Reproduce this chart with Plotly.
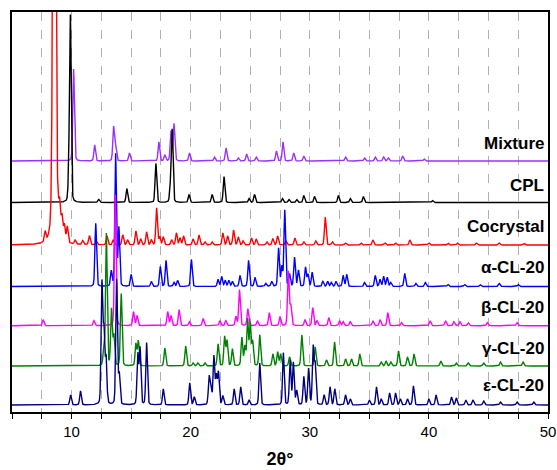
import numpy as np
import plotly.graph_objects as go

# ---- data (peak position 2θ, peak height above baseline) ----
names = ["Mixture", "CPL", "Cocrystal", "α-CL-20", "β-CL-20", "γ-CL-20", "ε-CL-20"]
colors = ["#9B30FF", "#000000", "#FF0000", "#0000FF", "#FF00FF", "#008000", "#000080"]
baselines = [251, 209.5, 167, 125.5, 86.3, 46, 7]
label_y = [269, 227, 186, 145, 105, 64, 27]

mix_pos = [10.17, 11.94, 13.53, 13.7, 14.86, 17.33, 17.83, 18.35, 18.6, 19.9, 22.0, 22.97, 24.0, 24.7, 25.5,
           27.2, 27.75, 28.65, 29.5, 33.0, 34.6, 35.5, 36.2, 36.6, 37.8, 39.6]
mix_h = [92, 16, 34, 14, 8, 19, 6, 30, 37, 8, 4, 13, 3, 7, 4,
         10, 19, 8, 5, 4, 3, 4, 4, 3, 5, 2]

cpl_pos = [9.78, 9.9, 12.28, 14.64, 17.08, 18.3, 18.45, 19.86, 21.8, 22.8, 24.9, 25.36, 27.7, 28.25, 28.9,
           29.5, 30.4, 32.4, 33.4, 34.5, 40.3]
cpl_h = [22, 183, 3, 14, 39, 15, 72, 8, 8, 26, 4, 8, 4, 3, 3,
         7, 6, 7, 4, 6, 2]

coc_pos = [7.78, 8.55, 8.7, 9.0, 9.2, 9.4, 9.64, 10.3, 10.94, 11.5, 12.1, 12.97, 13.5, 14.3, 14.7, 15.4, 15.8,
           16.3, 16.7, 17.14, 17.4, 17.7, 18.4, 18.8, 19.1, 19.4, 20.2, 20.7, 21.2, 21.8, 22.7, 23.1, 23.6, 24.0,
           24.4, 25.1, 25.5, 26.4, 26.9, 27.3, 28.0, 28.75, 29.5, 30.5, 31.3, 31.9, 33.0, 34.3, 35.3, 36.3, 37.2,
           38.4, 40.0, 41.6, 42.4, 44.0, 45.9, 48.0]
coc_h = [10, 800, 28, 22, 20, 16, 16, 4, 4, 9, 3, 9, 5, 10, 5, 14, 6,
         13, 5, 37, 8, 8, 5, 12, 7, 9, 6, 10, 3, 3, 12, 9, 15, 8,
         4, 7, 6, 3, 6, 9, 4, 7, 3, 4, 28, 3, 2, 2, 5, 2, 2,
         5, 2, 2, 2, 2, 2, 1.5]

alp_pos = [12.03, 13.33, 13.7, 13.97, 15.0, 16.7, 17.45, 17.93, 18.6, 18.9, 20.06, 22.3, 22.6, 22.9, 23.2, 23.5,
           24.14, 24.86, 25.4, 26.3, 26.8, 27.38, 27.65, 27.9, 28.3, 28.72, 29.05, 29.64, 29.85, 30.2, 31.1,
           31.5, 31.8, 32.2, 32.8, 33.1, 34.6, 35.5, 35.9, 36.2, 36.5, 36.8, 37.97, 38.9, 39.7, 41.6, 43.0,
           44.3, 45.9, 47.5]
alp_h = [63, 15, 132, 58, 12, 5, 20, 26, 4, 6, 27, 7, 10, 6, 6, 5,
         11, 26, 9, 3, 5, 38, 19, 76, 12, 29, 16, 19, 12, 14, 5,
         5, 4, 5, 11, 12, 4, 11, 7, 10, 9, 4, 13, 3, 4, 2, 2,
         2, 3, 2]

bet_pos = [7.62, 11.88, 13.67, 15.2, 15.5, 18.07, 18.35, 19.03, 19.9, 21.05, 22.45, 22.95, 23.8, 24.1, 24.8,
           25.6, 26.6, 27.5, 28.2, 28.4, 29.6, 30.25, 30.6, 31.6, 32.5, 32.8, 33.4, 35.3, 35.9, 36.55, 37.7,
           40.1, 41.4, 42.1, 42.6, 43.3, 44.9, 47.4]
bet_h = [6, 5, 131, 14, 10, 14, 10, 16, 4, 7, 5, 5, 9, 36, 17,
         5, 13, 9, 54, 20, 6, 18, 5, 8, 5, 4, 4, 5, 6, 13, 3,
         5, 5, 4, 4, 3, 3, 3]

gam_pos = [12.7, 12.92, 13.35, 13.55, 14.17, 15.4, 15.6, 17.83, 19.58, 20.2, 20.6, 21.2, 22.3, 22.85, 23.05, 23.5,
           24.3, 24.55, 24.78, 25.0, 25.2, 25.8, 26.9, 27.3, 27.55, 28.3, 29.33, 30.45, 31.4, 32.08, 33.0, 33.5,
           34.2, 36.0, 36.4, 36.8, 37.45, 38.2, 38.75, 41.0, 42.3, 43.3, 44.6, 46.0, 47.9]
gam_h = [13, 132, 56, 30, 72, 22, 25, 18, 20, 3, 3, 3, 22, 29, 25, 17,
         28, 19, 46, 42, 24, 31, 12, 14, 12, 9, 31, 19, 6, 24, 7, 7,
         12, 4, 5, 4, 15, 9, 12, 5, 3, 3, 3, 4, 4]

eps_pos = [9.92, 10.75, 12.55, 12.72, 12.9, 13.78, 14.0, 15.56, 15.75, 16.3, 17.7, 19.92, 20.3, 21.55, 21.7,
           21.95, 22.15, 22.33, 22.7, 23.65, 24.2, 24.9, 25.8, 27.78, 28.35, 28.62, 28.9, 29.5, 29.9, 30.28,
           30.45, 31.2, 31.7, 32.1, 33.0, 33.4, 35.0, 35.6, 36.0, 36.7, 37.2, 37.6, 38.2, 38.7, 40.0, 40.6,
           41.9, 42.3, 43.1, 43.7, 44.6, 46.0, 47.4, 48.8]
eps_h = [10, 14, 120, 70, 45, 125, 30, 50, 56, 62, 16, 22, 8, 27, 18,
         48, 28, 32, 9, 16, 18, 5, 42, 52, 44, 42, 14, 28, 36, 57,
         40, 10, 18, 16, 10, 6, 5, 18, 6, 12, 12, 6, 6, 19, 6, 10,
         8, 7, 5, 5, 4, 3, 3, 3]

peak_pos = [mix_pos, cpl_pos, coc_pos, alp_pos, bet_pos, gam_pos, eps_pos]
peak_h = [mix_h, cpl_h, coc_h, alp_h, bet_h, gam_h, eps_h]

# ---- profile rendering ----
x = np.arange(5.0, 50.0001, 0.01)


def profile(pos, h, width):
    y = np.zeros_like(x)
    for c, a in zip(pos, h):
        w = width
        if a > 300:
            w = 0.24
        elif c == 8.7:
            w = 0.6
        g = np.exp(-4 * np.log(2) * ((x - c) / w) ** 2)
        lor = 1.0 / (1.0 + (2 * (x - c) / w) ** 2)
        y += a * (0.8 * g + 0.2 * lor)
    return y


fig = go.Figure()
for name, col, base, pos, h in zip(names, colors, baselines, peak_pos, peak_h):
    fig.add_trace(go.Scatter(x=x, y=base + profile(pos, h, 0.16), mode="lines", name=name,
                             line=dict(color=col, width=1.4), showlegend=False, hoverinfo="skip"))

for name, ly in zip(names, label_y):
    fig.add_annotation(x=49.85, y=ly, text=f"<b>{name}</b>", showarrow=False, xanchor="right",
                       yanchor="middle", font=dict(family="Liberation Sans, Arial", size=17, color="#000"))

tickvals = [5 + 2.5 * i for i in range(19)]
ticktext = [str(int(v)) if v % 10 == 0 else "" for v in tickvals]

fig.update_layout(
    width=557, height=470,
    margin=dict(l=12, r=9, t=12, b=58),
    paper_bgcolor="white", plot_bgcolor="white",
    font=dict(family="Liberation Sans, Arial", color="#000"),
    xaxis=dict(range=[5, 50], tickvals=tickvals, ticktext=ticktext, ticks="outside", ticklen=5,
               tickwidth=1.2, tickcolor="#000", tickfont=dict(size=15),
               showgrid=True, gridcolor="#b0b0b0", griddash="dash", gridwidth=1,
               showline=True, linecolor="#000", linewidth=1.5, mirror=True, zeroline=False,
               automargin=False,
               title=dict(text="<b>2θ°</b>", font=dict(size=18), standoff=14)),
    yaxis=dict(range=[0, 400], showticklabels=False, ticks="", showgrid=False, zeroline=False,
               showline=True, linecolor="#000", linewidth=1.5, mirror=True, automargin=False),
)

fig.write_html("out.html", config={"displayModeBar": False},
               post_script="document.body.style.margin='0';document.body.style.overflow='hidden';")
